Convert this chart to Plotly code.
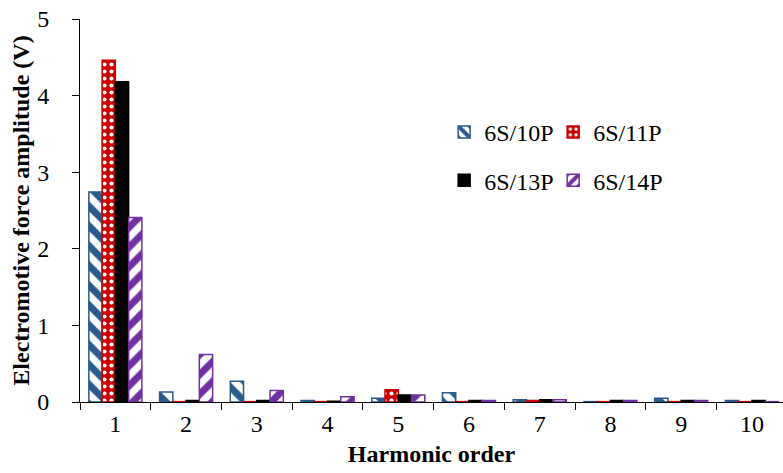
import plotly.graph_objects as go

harmonics = ["1", "2", "3", "4", "5", "6", "7", "8", "9", "10"]
emf_10p = [2.74, 0.13, 0.27, 0.02, 0.05, 0.12, 0.03, 0.005, 0.05, 0.02]
emf_11p = [4.46, 0.005, 0.005, 0.005, 0.16, 0.005, 0.02, 0.005, 0.005, 0.005]
emf_13p = [4.18, 0.02, 0.02, 0.01, 0.09, 0.02, 0.03, 0.02, 0.02, 0.02]
emf_14p = [2.41, 0.62, 0.15, 0.07, 0.09, 0.02, 0.03, 0.02, 0.02, 0.005]

FONT = "Liberation Serif"
BLUE = "#2B5A8C"
RED = "#CC0000"
PURPLE = "#7030A0"
FS = 24

fig = go.Figure()
fig.add_trace(go.Bar(
    x=harmonics, y=emf_10p, name="6S/10P", legend="legend",
    marker=dict(color="white", line=dict(color=BLUE, width=1.5),
                pattern=dict(shape="\\", fgcolor=BLUE, bgcolor="white", fgopacity=1,
                             size=14, solidity=0.5)),
))
fig.add_trace(go.Bar(
    x=harmonics, y=emf_11p, name="6S/11P", legend="legend",
    marker=dict(color=RED, line=dict(color=RED, width=1.5),
                pattern=dict(shape=".", fgcolor="white", bgcolor=RED, fgopacity=1,
                             size=7, solidity=0.28)),
))
fig.add_trace(go.Bar(
    x=harmonics, y=emf_13p, name="6S/13P", legend="legend2",
    marker=dict(color="black", line=dict(color="black", width=1.5)),
))
fig.add_trace(go.Bar(
    x=harmonics, y=emf_14p, name="6S/14P", legend="legend2",
    marker=dict(color="white", line=dict(color=PURPLE, width=1.5),
                pattern=dict(shape="/", fgcolor=PURPLE, bgcolor="white", fgopacity=1,
                             size=14, solidity=0.5)),
))

legend_common = dict(
    orientation="h", font=dict(family=FONT, size=FS, color="black"),
    bgcolor="rgba(0,0,0,0)", entrywidth=64, entrywidthmode="pixels",
    xanchor="left", yanchor="middle", itemclick=False, itemdoubleclick=False,
)

fig.update_layout(
    width=783, height=473,
    margin=dict(l=80, r=0, t=19, b=71),
    paper_bgcolor="white", plot_bgcolor="white",
    barmode="group", bargap=0.25, bargroupgap=0.0,
    font=dict(family=FONT, size=FS, color="black"),
    legend=dict(x=0.518, y=0.704, **legend_common),
    legend2=dict(x=0.518, y=0.578, **legend_common),
    xaxis=dict(
        type="category", range=[-0.5, 9.44], tickson="boundaries", ticks="outside", ticklen=7,
        tickcolor="black", showline=True, linecolor="black", linewidth=1,
        showgrid=False, tickfont=dict(family=FONT, size=FS),
        title=dict(text="<b>Harmonic order</b>", font=dict(family=FONT, size=FS), standoff=9),
    ),
    yaxis=dict(
        range=[0, 5], dtick=1, ticks="outside", ticklen=7, tickcolor="black",
        showline=True, linecolor="black", linewidth=1, showgrid=False,
        zeroline=False, tickfont=dict(family=FONT, size=FS),
        ticksuffix="\u00a0\u00a0\u00a0",
        title=dict(text="<b>Electromotive force amplitude (V)</b>", font=dict(family=FONT, size=FS), standoff=0),
    ),
)

fig.write_html("out.html")
